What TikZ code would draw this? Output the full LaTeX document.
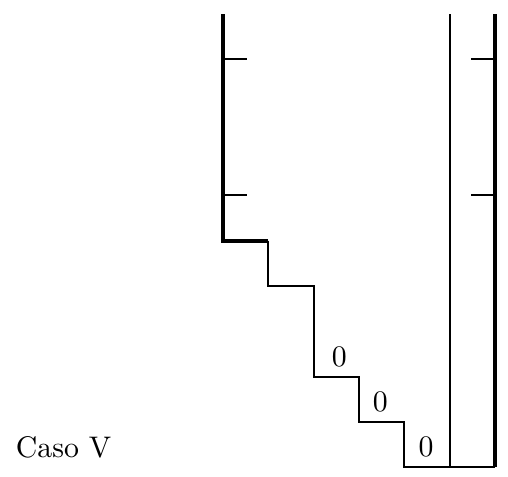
\documentclass[tikz,border=0pt]{standalone}
\usepackage{amsmath}
\usepackage{tikz}

\begin{document}
\begin{tikzpicture}[x=0.5345cm,y=0.5345cm]
 \tikzstyle{wall} = [line width=1.4pt]
 \tikzstyle{edge} = [line width=0.7pt]
 \newcommand{\tk}{0.52}

 \useasboundingbox (-4.92,-0.2) rectangle (6.29,10.31);

% Left side with its ticks
 \draw[wall] (0,10) -- (0,5) -- (1,5);
 \draw[edge] (0,9) -- (\tk,9);
 \draw[edge] (0,6) -- (\tk,6);

% Staircase down to the floor
 \draw[edge] (1,5) -- (1,4) -- (2,4) -- (2,2) -- (3,2) -- (3,1) -- (4,1) -- (4,0) -- (6,0);

% Right columns
 \draw[edge] (5,10) -- (5,0);
 \draw[wall] (6,10) -- (6,0);
 \draw[edge] (6-\tk,9) -- (6,9);
 \draw[edge] (6-\tk,6) -- (6,6);

% Zeros on the steps
 \node (z1) at (2.57,2.44) {$0$};
 \node (z2) at (3.47,1.44) {$0$};
 \node (z3) at (4.48,0.44) {$0$};

 \node[right] (caso) at (-4.8,0.44) {Caso V};
\end{tikzpicture}
\end{document}
